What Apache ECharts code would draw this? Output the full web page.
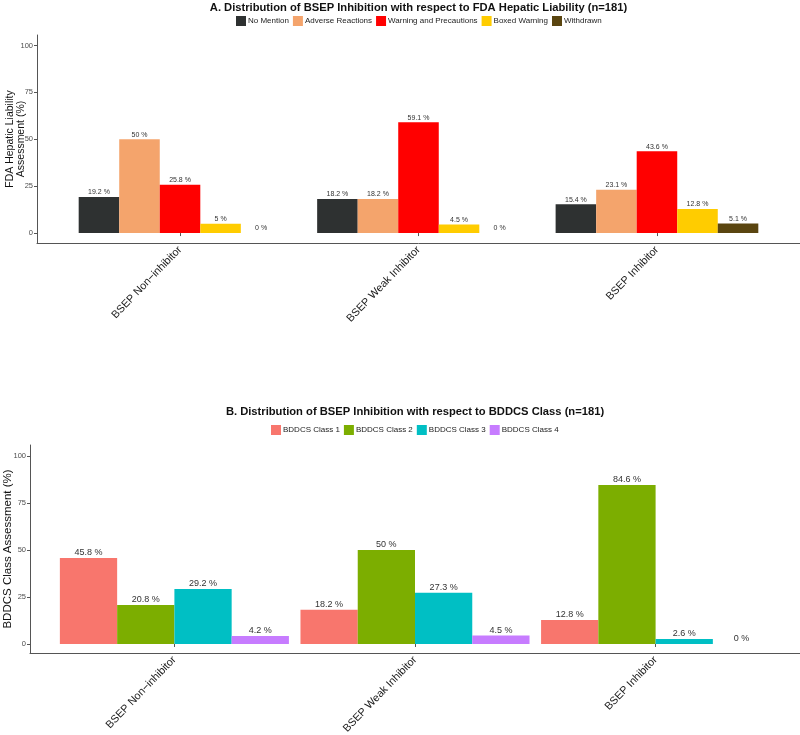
<!DOCTYPE html>
<html>
<head>
<meta charset="utf-8">
<script src="https://cdn.jsdelivr.net/npm/echarts@6/dist/echarts.min.js"></script>
<style>
html,body{margin:0;padding:0;background:#fff;}
#chart{width:800px;height:735px;}
</style>
</head>
<body>
<div id="chart"></div>
<script>
// ---- data ----
const categories = ['BSEP Non\u2212inhibitor', 'BSEP Weak Inhibitor', 'BSEP Inhibitor'];
const yTicks = [0, 25, 50, 75, 100];

const titleA = 'A. Distribution of BSEP Inhibition with respect to FDA Hepatic Liability (n=181)';
const seriesNamesA = ['No Mention', 'Adverse Reactions', 'Warning and Precautions', 'Boxed Warning', 'Withdrawn'];
const noMention = [19.2, 18.2, 15.4];
const adverseReactions = [50, 18.2, 23.1];
const warningPrecautions = [25.8, 59.1, 43.6];
const boxedWarning = [5, 4.5, 12.8];
const withdrawn = [0, 0, 5.1];

const titleB = 'B. Distribution of BSEP Inhibition with respect to BDDCS Class (n=181)';
const seriesNamesB = ['BDDCS Class 1', 'BDDCS Class 2', 'BDDCS Class 3', 'BDDCS Class 4'];
const bddcs1 = [45.8, 18.2, 12.8];
const bddcs2 = [20.8, 50, 84.6];
const bddcs3 = [29.2, 27.3, 2.6];
const bddcs4 = [4.2, 4.5, 0];

// ---- styles ----
const colorsA = ['#2e3131', '#f4a46c', '#ff0000', '#ffcc00', '#5a4510'];
const colorsB = ['#f8766d', '#7cae00', '#00bfc4', '#c77cff'];
const SANS = "'Liberation Sans', Arial, sans-serif";
const axisColor = '#555';

const valuesA = [noMention, adverseReactions, warningPrecautions, boxedWarning, withdrawn];
const valuesB = [bddcs1, bddcs2, bddcs3, bddcs4];

function frameY(gridIndex, min, max, name, nameGap, nameSize, lineH) {
  return {
    type: 'value', gridIndex, min, max,
    name, nameLocation: 'middle', nameGap, nameMoveOverlap: false,
    nameTextStyle: { fontFamily: SANS, fontSize: nameSize, color: '#111', lineHeight: lineH, align: 'center' },
    axisLine: { show: true, onZero: false, lineStyle: { color: axisColor, width: 1 } },
    axisTick: { show: true, length: 3, customValues: yTicks, lineStyle: { color: axisColor } },
    axisLabel: { customValues: yTicks, fontFamily: SANS, fontSize: 7.5, color: '#4d4d4d', margin: 4 },
    splitLine: { show: false }
  };
}
function frameX(gridIndex) {
  return {
    type: 'value', gridIndex, min: 0, max: 1,
    axisLine: { show: true, onZero: false, lineStyle: { color: axisColor, width: 1 } },
    axisTick: { show: false }, axisLabel: { show: false }, splitLine: { show: false }
  };
}
function barX(gridIndex) {
  return {
    type: 'category', gridIndex, data: categories,
    axisLine: { show: false },
    axisTick: { show: true, alignWithLabel: true, length: 3, lineStyle: { color: axisColor } },
    axisLabel: { rotate: 46, margin: 5, fontFamily: SANS, fontSize: 10.8, color: '#1a1a1a', interval: 0 },
    splitLine: { show: false }
  };
}
function barY(gridIndex, min, max) {
  return { type: 'value', gridIndex, min, max, show: false, splitLine: { show: false } };
}

const series = [];
seriesNamesA.forEach((n, i) => {
  series.push({
    name: n, type: 'bar', xAxisIndex: 1, yAxisIndex: 1,
    data: valuesA[i], barGap: '0%', barCategoryGap: '15%',
    itemStyle: { color: colorsA[i] },
    label: { show: true, position: 'top', distance: 1, formatter: p => p.value + ' %',
             fontFamily: SANS, fontSize: 7, color: '#333' }
  });
});
seriesNamesB.forEach((n, i) => {
  series.push({
    name: n, type: 'bar', xAxisIndex: 3, yAxisIndex: 3,
    data: valuesB[i], barGap: '0%', barCategoryGap: '4.8%',
    itemStyle: { color: colorsB[i] },
    label: { show: true, position: 'top', distance: 1, formatter: p => p.value + ' %',
             fontFamily: SANS, fontSize: 9, color: '#333' }
  });
});

const gridBase = { outerBoundsMode: 'none', containLabel: false };

const option = {
  backgroundColor: '#fff',
  animation: false,
  title: [
    { text: titleA, left: 418.5, top: 2, textAlign: 'center', padding: 0,
      textStyle: { fontFamily: SANS, fontWeight: 'bold', fontSize: 11.2, color: '#111' } },
    { text: titleB, left: 415, top: 406, textAlign: 'center', padding: 0,
      textStyle: { fontFamily: SANS, fontWeight: 'bold', fontSize: 11.2, color: '#111' } }
  ],
  legend: [
    { data: seriesNamesA, left: 236, top: 16, padding: 0,
      itemWidth: 10, itemHeight: 10, itemGap: 4, icon: 'rect',
      textStyle: { fontFamily: SANS, fontSize: 8, color: '#222', padding: [0, 0, 0, -3] } },
    { data: seriesNamesB, left: 271, top: 425, padding: 0,
      itemWidth: 10, itemHeight: 10, itemGap: 4, icon: 'rect',
      textStyle: { fontFamily: SANS, fontSize: 8, color: '#222', padding: [0, 0, 0, -3] } }
  ],
  grid: [
    Object.assign({ left: 37, right: 0, top: 35, height: 208 }, gridBase),
    Object.assign({ left: 60.8, right: 23.8, top: 35, height: 208 }, gridBase),
    Object.assign({ left: 30, right: 0, top: 445, height: 208 }, gridBase),
    Object.assign({ left: 54.1, right: 24.1, top: 445, height: 208 }, gridBase)
  ],
  xAxis: [frameX(0), barX(1), frameX(2), barX(3)],
  yAxis: [
    frameY(0, -5.3, 105.6, 'FDA Hepatic Liability\nAssessment (%)', 10, 10.5, 11),
    barY(1, -5.3, 105.6),
    frameY(2, -4.8, 105.85, 'BDDCS Class Assessment (%)', 16, 11.5, 13),
    barY(3, -4.8, 105.85)
  ],
  series
};

const chart = echarts.init(document.getElementById('chart'), null, { renderer: 'canvas' });
chart.setOption(option);
</script>
</body>
</html>
